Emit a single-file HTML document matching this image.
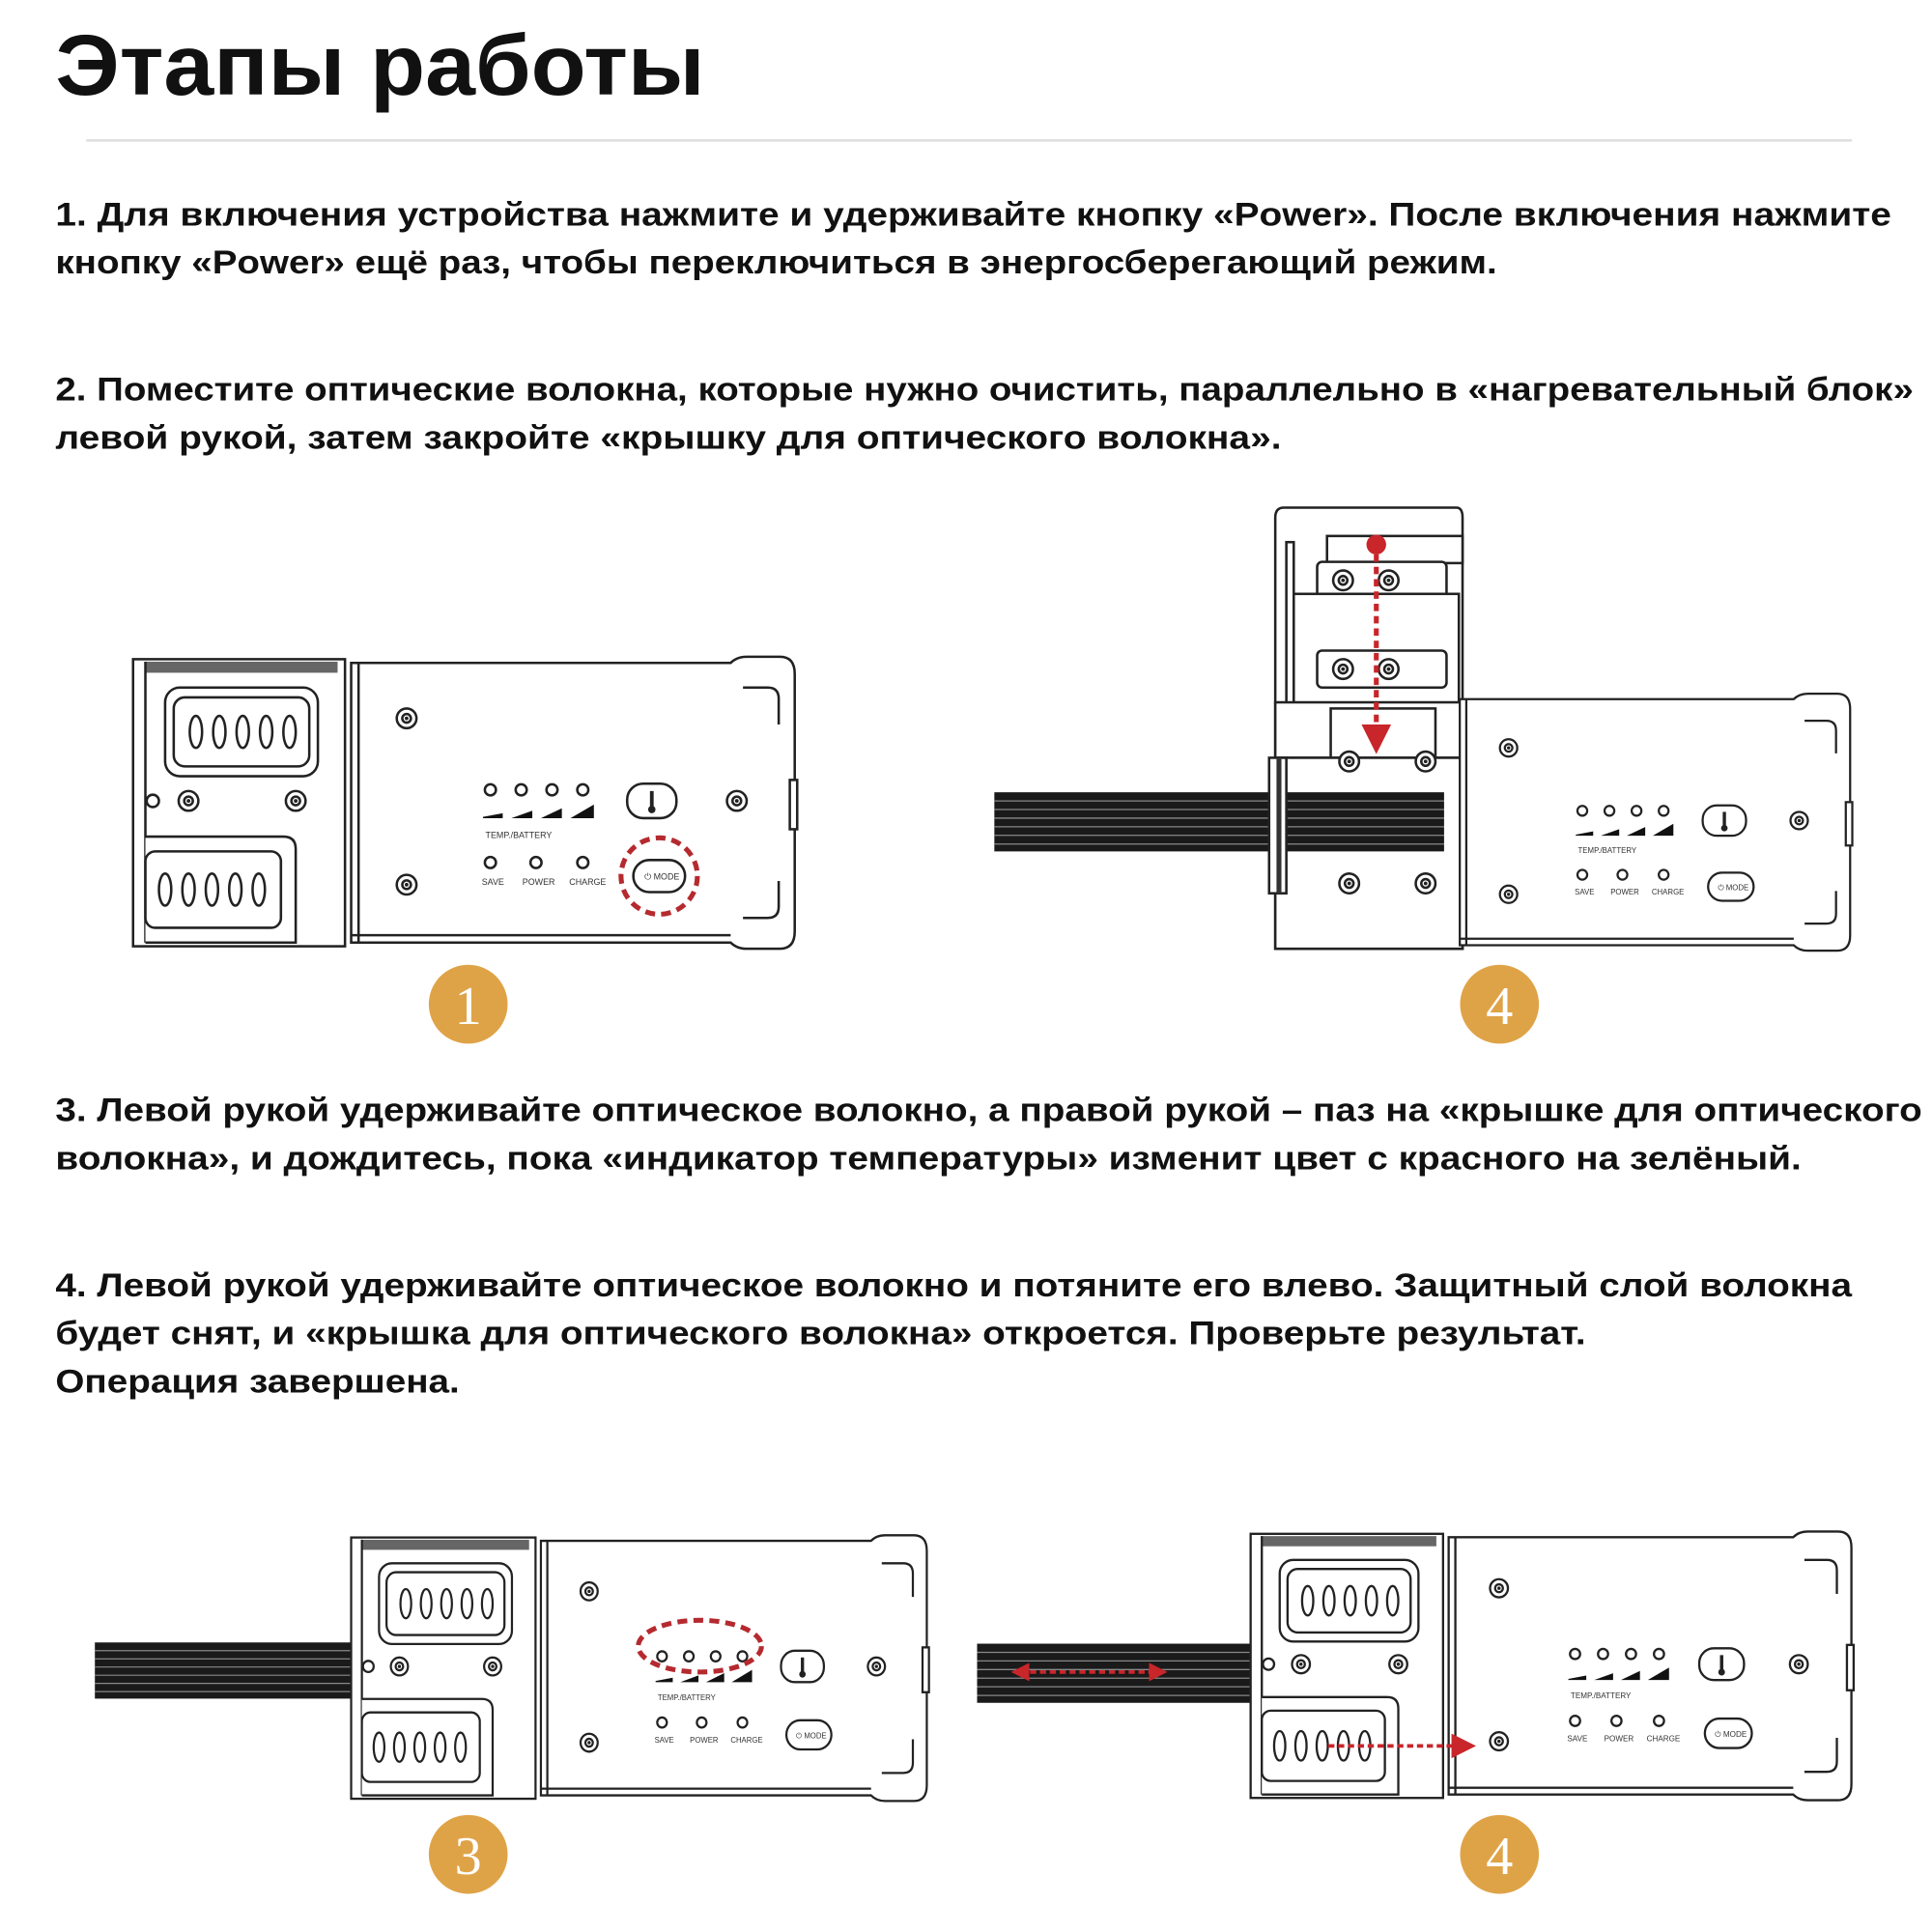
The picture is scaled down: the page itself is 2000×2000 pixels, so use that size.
<!DOCTYPE html>
<html><head><meta charset="utf-8"><style>
html,body{margin:0;padding:0;background:#fff;width:2000px;height:2000px;overflow:hidden}
svg{display:block}
.t{font-family:"Liberation Sans","DejaVu Sans",sans-serif;font-weight:bold;fill:#111}
.s{fill:#fff;stroke:#222;stroke-width:2}
.l{fill:none;stroke:#222;stroke-width:2}
.sm{font-family:"Liberation Sans",sans-serif;font-size:7px;fill:#333}
</style></head><body>
<svg width="2000" height="2000" viewBox="0 0 1568 1568" xmlns="http://www.w3.org/2000/svg">
<defs>
<g id="win">
<ellipse cx="0" cy="0" rx="5" ry="13" class="l" stroke-width="2.5"/>
<ellipse cx="19" cy="0" rx="5" ry="13" class="l" stroke-width="2.5"/>
<ellipse cx="38" cy="0" rx="5" ry="13" class="l" stroke-width="2.5"/>
<ellipse cx="57" cy="0" rx="5" ry="13" class="l" stroke-width="2.5"/>
<ellipse cx="76" cy="0" rx="5" ry="13" class="l" stroke-width="2.5"/>
</g>
<g id="scr"><circle r="8" class="s" stroke-width="1.8"/><circle r="3.5" class="l" stroke-width="1.2"/><circle r="1.5" fill="#222"/></g>
<g id="plate">
<path d="M177 5 H485 Q490 0 498 0 H525 Q537 0 537 14 V223 Q537 237 525 237 H498 Q490 237 485 232 H177 Z" class="s" stroke-width="2.5"/>
<line x1="183" y1="5" x2="183" y2="232" class="l"/>
<line x1="177" y1="226" x2="485" y2="226" class="l" stroke-width="1"/>
<path d="M495 25 H515 Q524 25 524 34 V55" class="l" stroke-width="4"/>
<path d="M495 212 H515 Q524 212 524 203 V182" class="l" stroke-width="4"/>
<rect x="533" y="100" width="6" height="40" class="s"/>
<use href="#scr" x="222" y="50"/><use href="#scr" x="222" y="185"/><use href="#scr" x="490" y="117"/>
<circle cx="290" cy="108" r="4.5" class="l" stroke-width="1.5"/><circle cx="315" cy="108" r="4.5" class="l" stroke-width="1.5"/>
<circle cx="340" cy="108" r="4.5" class="l" stroke-width="1.5"/><circle cx="365" cy="108" r="4.5" class="l" stroke-width="1.5"/>
<path d="M284 130 L300 127 V131 H284Z" fill="#111"/><path d="M307 131 L324 125 V131Z" fill="#111"/>
<path d="M331 131 L348 123 V131Z" fill="#111"/><path d="M355 131 L374 120 V131Z" fill="#111"/>
<circle cx="290" cy="167" r="4.5" class="l" stroke-width="1.5"/><circle cx="327" cy="167" r="4.5" class="l" stroke-width="1.5"/><circle cx="365" cy="167" r="4.5" class="l" stroke-width="1.5"/>
<rect x="401" y="103" width="40" height="28" rx="13" class="s" stroke-width="2.5"/>
<line x1="421" y1="109" x2="421" y2="123" stroke="#222" stroke-width="3"/><circle cx="421" cy="124" r="3" fill="#222"/>
<rect x="406" y="165" width="42" height="26" rx="13" class="s" stroke-width="2.5"/>
</g>
<g id="dev">
<rect x="0" y="2" width="172" height="233" class="s" stroke-width="2.5"/>
<rect x="10" y="4" width="156" height="9" fill="#666"/>
<line x1="10" y1="4" x2="10" y2="232" class="l"/>
<rect x="26" y="25" width="124" height="72" rx="12" class="s" stroke-width="2.5"/>
<rect x="33" y="33" width="110" height="56" rx="9" class="s" stroke-width="2"/>
<use href="#win" x="51" y="61"/>
<circle cx="16" cy="117" r="5" class="s" stroke-width="2"/>
<use href="#scr" x="45" y="117"/><use href="#scr" x="132" y="117"/>
<path d="M10 146 H122 Q132 146 132 156 V232 H10" class="s" stroke-width="2.5"/>
<rect x="10" y="158" width="110" height="62" rx="8" class="s" stroke-width="2"/>
<use href="#win" x="26" y="189"/>
<use href="#plate"/>
</g>
<g id="fib">
<rect x="0" y="0" width="100" height="48" fill="#1a1a1a"/>
<line x1="0" y1="7" x2="100" y2="7" stroke="#888" stroke-width="1"/>
<line x1="0" y1="14" x2="100" y2="14" stroke="#888" stroke-width="1"/>
<line x1="0" y1="21" x2="100" y2="21" stroke="#888" stroke-width="1"/>
<line x1="0" y1="28" x2="100" y2="28" stroke="#888" stroke-width="1"/>
<line x1="0" y1="35" x2="100" y2="35" stroke="#888" stroke-width="1"/>
<line x1="0" y1="42" x2="100" y2="42" stroke="#888" stroke-width="1"/>
</g>
<marker id="ah" viewBox="0 0 10 10" refX="5" refY="5" markerWidth="5" markerHeight="5" orient="auto-start-reverse"><path d="M0 0 L10 5 L0 10Z" fill="#c8262a"/></marker>
</defs>

<text class="t" x="45" y="77" font-size="70" textLength="527" lengthAdjust="spacingAndGlyphs">Этапы работы</text>
<line x1="70" y1="114" x2="1503" y2="114" stroke="#ddd" stroke-width="2"/>

<g font-size="27">
<text class="t" x="45" y="183" font-size="27" textLength="1490" lengthAdjust="spacingAndGlyphs">1. Для включения устройства нажмите и удерживайте кнопку «Power». После включения нажмите</text>
<text class="t" x="45" y="222" font-size="27" textLength="1170" lengthAdjust="spacingAndGlyphs">кнопку «Power» ещё раз, чтобы переключиться в энергосберегающий режим.</text>
<text class="t" x="45" y="325" font-size="27" textLength="1508" lengthAdjust="spacingAndGlyphs">2. Поместите оптические волокна, которые нужно очистить, параллельно в «нагревательный блок»</text>
<text class="t" x="45" y="364" font-size="27" textLength="995" lengthAdjust="spacingAndGlyphs">левой рукой, затем закройте «крышку для оптического волокна».</text>
<text class="t" x="45" y="910" font-size="27" textLength="1515" lengthAdjust="spacingAndGlyphs">3. Левой рукой удерживайте оптическое волокно, а правой рукой – паз на «крышке для оптического</text>
<text class="t" x="45" y="949" font-size="27" textLength="1417" lengthAdjust="spacingAndGlyphs">волокна», и дождитесь, пока «индикатор температуры» изменит цвет с красного на зелёный.</text>
<text class="t" x="45" y="1052" font-size="27" textLength="1458" lengthAdjust="spacingAndGlyphs">4. Левой рукой удерживайте оптическое волокно и потяните его влево. Защитный слой волокна</text>
<text class="t" x="45" y="1091" font-size="27" textLength="1242" lengthAdjust="spacingAndGlyphs">будет снят, и «крышка для оптического волокна» откроется. Проверьте результат.</text>
<text class="t" x="45" y="1130" font-size="27" textLength="328" lengthAdjust="spacingAndGlyphs">Операция завершена.</text>
</g>

<!-- Device 1 -->
<g transform="translate(108,533)">
<use href="#dev"/>
<text class="sm" x="286" y="147">TEMP./BATTERY</text>
<text class="sm" x="283" y="185" font-size="5">SAVE</text><text class="sm" x="316" y="185" font-size="5">POWER</text><text class="sm" x="354" y="185" font-size="5">CHARGE</text>
<text class="sm" x="415" y="181" font-size="6">⏻ MODE</text>
<circle cx="427" cy="178" r="31" fill="none" stroke="#b52a2f" stroke-width="4" stroke-dasharray="8 5"/>
</g>
<circle cx="380" cy="815" r="32" fill="#dfa347"/>
<text x="380" y="831" text-anchor="middle" font-family="Liberation Serif,serif" font-size="44" fill="#fff">1</text>

<!-- Device 4a -->
<use href="#fib" transform="translate(807,643) scale(3.6,1)"/>
<g transform="translate(1032,410)">
<path d="M3 10 Q3 2 10 2 H150 Q155 2 155 10 V360 H3 Z" class="s" stroke-width="2.5"/>
<path d="M5 345 Q15 340 20 345 V360 H5" class="l"/>
<rect x="45" y="25" width="110" height="22" class="s"/>
<rect x="37" y="46" width="105" height="30" rx="4" class="s"/>
<rect x="17" y="72" width="135" height="90" class="s"/>
<rect x="37" y="118" width="105" height="30" rx="4" class="s"/>
<rect x="12" y="30" width="6" height="140" class="s"/>
<use href="#scr" x="58" y="61"/><use href="#scr" x="95" y="61"/>
<use href="#scr" x="58" y="133"/><use href="#scr" x="95" y="133"/>
<rect x="3" y="160" width="152" height="45" class="s"/>
<rect x="48" y="165" width="85" height="40" class="s"/>
<rect x="3" y="205" width="152" height="155" class="s"/>
<use href="#scr" x="63" y="208"/><use href="#scr" x="125" y="208"/>
<use href="#scr" x="63" y="307"/><use href="#scr" x="125" y="307"/>
</g>
<use href="#fib" transform="translate(1032,643) scale(1.4,1)"/>
<rect x="1030" y="615" width="14" height="110" class="s"/>
<rect x="1036" y="615" width="4" height="110" fill="#333"/>
<g transform="translate(1029,563) scale(0.88,0.88)">
<use href="#plate"/>
<text class="sm" x="286" y="147">TEMP./BATTERY</text>
<text class="sm" x="283" y="185" font-size="5">SAVE</text><text class="sm" x="316" y="185" font-size="5">POWER</text><text class="sm" x="354" y="185" font-size="5">CHARGE</text>
<text class="sm" x="415" y="181" font-size="6">⏻ MODE</text>
</g>
<circle cx="1117" cy="442" r="8" fill="#c8262a"/>
<line x1="1117" y1="450" x2="1117" y2="595" stroke="#c8262a" stroke-width="4" stroke-dasharray="6 4"/>
<path d="M1105 588 L1129 588 L1117 612Z" fill="#c8262a"/>
<circle cx="1217" cy="815" r="32" fill="#dfa347"/>
<text x="1217" y="831" text-anchor="middle" font-family="Liberation Serif,serif" font-size="44" fill="#fff">4</text>

<!-- Device 3 -->
<use href="#fib" transform="translate(77,1333) scale(2.15,0.95)"/>
<g transform="translate(285,1246) scale(0.87,0.91)">
<use href="#dev"/>
<text class="sm" x="286" y="147">TEMP./BATTERY</text>
<text class="sm" x="283" y="185" font-size="5">SAVE</text><text class="sm" x="316" y="185" font-size="5">POWER</text><text class="sm" x="354" y="185" font-size="5">CHARGE</text>
<text class="sm" x="415" y="181" font-size="6">⏻ MODE</text>
</g>
<ellipse cx="568" cy="1336" rx="50" ry="21" fill="none" stroke="#b52a2f" stroke-width="4" stroke-dasharray="8 5"/>
<circle cx="380" cy="1505" r="32" fill="#dfa347"/>
<text x="380" y="1521" text-anchor="middle" font-family="Liberation Serif,serif" font-size="44" fill="#fff">3</text>

<!-- Device 4b -->
<use href="#fib" transform="translate(793,1334) scale(2.3,1)"/>
<g transform="translate(1015,1243) scale(0.908,0.92)">
<use href="#dev"/>
<text class="sm" x="286" y="147">TEMP./BATTERY</text>
<text class="sm" x="283" y="185" font-size="5">SAVE</text><text class="sm" x="316" y="185" font-size="5">POWER</text><text class="sm" x="354" y="185" font-size="5">CHARGE</text>
<text class="sm" x="415" y="181" font-size="6">⏻ MODE</text>
</g>
<line x1="828" y1="1357" x2="940" y2="1357" stroke="#c8262a" stroke-width="3" stroke-dasharray="5 3" marker-start="url(#ah)" marker-end="url(#ah)"/>
<line x1="1078" y1="1417" x2="1185" y2="1417" stroke="#c8262a" stroke-width="3" stroke-dasharray="5 3"/>
<path d="M1178 1407 L1198 1417 L1178 1427Z" fill="#c8262a"/>
<circle cx="1217" cy="1505" r="32" fill="#dfa347"/>
<text x="1217" y="1521" text-anchor="middle" font-family="Liberation Serif,serif" font-size="44" fill="#fff">4</text>
</svg>
</body></html>
